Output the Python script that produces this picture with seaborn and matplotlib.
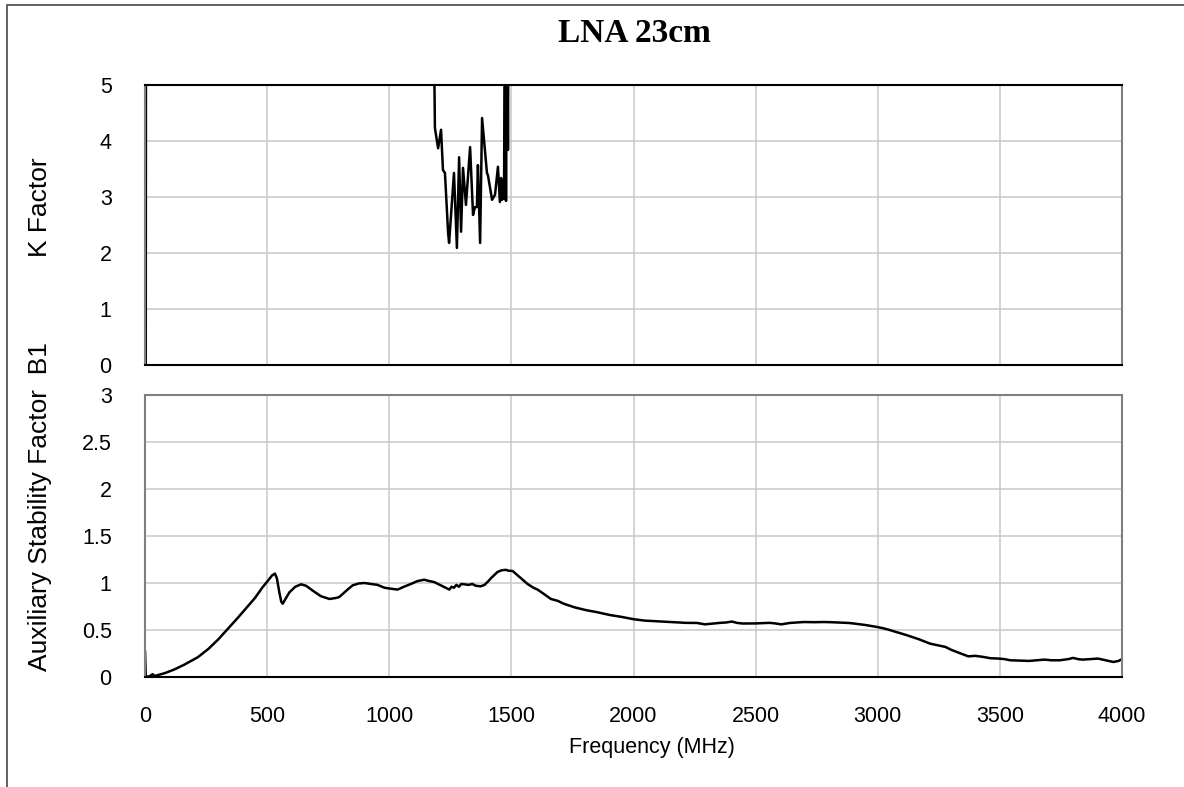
import numpy as np
import pandas as pd
import matplotlib
matplotlib.use("Agg")
import matplotlib.pyplot as plt
from matplotlib.patches import Rectangle
import seaborn as sns

# K factor (top panel); values above 5 are off-scale in the original
k_freq = [3, 8, 300, 800, 1175, 1187, 1200, 1212, 1220, 1228, 1241, 1245, 1265,
          1277, 1286, 1294, 1302, 1314, 1331, 1343, 1351, 1359, 1363, 1372, 1380,
          1400, 1404, 1421, 1433, 1445, 1453, 1458, 1462, 1466, 1470, 1474, 1478,
          1482, 1486, 1490, 2500, 4000]
k_vals = [0.0, 30, 40, 25, 9.0, 4.23, 3.87, 4.2, 3.48, 3.43, 2.36, 2.18, 3.43,
          2.09, 3.71, 2.38, 3.52, 2.86, 3.89, 2.68, 2.82, 2.82, 3.57, 2.18, 4.41,
          3.43, 3.39, 2.95, 3.04, 3.54, 2.91, 3.34, 2.95, 3.3, 2.97, 8.0, 2.93,
          8.0, 3.84, 9.0, 30, 30]

# Auxiliary stability factor B1 (bottom panel)
b1_freq = [0, 3, 10, 20, 31, 40, 52, 80, 120, 160, 216, 260, 300, 338, 380, 420,
           450, 482, 505, 520, 532, 540, 550, 558, 564, 575, 591, 615, 639, 660,
           686, 720, 755, 780, 795, 825, 850, 875, 898, 925, 952, 980, 1005, 1034,
           1060, 1089, 1115, 1143, 1165, 1184, 1215, 1246, 1255, 1265, 1275, 1285,
           1295, 1307, 1325, 1340, 1355, 1375, 1390, 1402, 1420, 1443, 1460, 1477,
           1490, 1505, 1535, 1566, 1590, 1607, 1635, 1662, 1690, 1714, 1760, 1808,
           1850, 1902, 1950, 2000, 2045, 2089, 2150, 2214, 2260, 2292, 2330, 2355,
           2380, 2402, 2425, 2448, 2500, 2558, 2580, 2605, 2640, 2670, 2698, 2740,
           2780, 2808, 2850, 2880, 2902, 2950, 2995, 3020, 3042, 3080, 3120, 3170,
           3214, 3250, 3277, 3300, 3323, 3350, 3370, 3400, 3433, 3460, 3495, 3520,
           3542, 3580, 3620, 3650, 3683, 3710, 3745, 3780, 3800, 3820, 3839, 3870,
           3902, 3930, 3964, 3985, 4000]
b1_vals = [0.28, 0.02, 0.0, 0.01, 0.03, 0.01, 0.02, 0.04, 0.08, 0.13, 0.21, 0.30,
           0.40, 0.51, 0.63, 0.75, 0.84, 0.957, 1.03, 1.08, 1.10, 1.05, 0.90, 0.80,
           0.78, 0.83, 0.90, 0.96, 0.986, 0.97, 0.92, 0.86, 0.83, 0.84, 0.85, 0.92,
           0.975, 0.995, 1.0, 0.99, 0.98, 0.95, 0.94, 0.93, 0.96, 0.99, 1.02, 1.035,
           1.02, 1.01, 0.97, 0.93, 0.96, 0.95, 0.98, 0.96, 0.99, 0.986, 0.98, 0.99,
           0.97, 0.965, 0.98, 1.01, 1.06, 1.117, 1.135, 1.14, 1.13, 1.128, 1.06,
           0.99, 0.95, 0.93, 0.88, 0.83, 0.81, 0.78, 0.74, 0.71, 0.69, 0.66, 0.64,
           0.615, 0.60, 0.594, 0.585, 0.576, 0.575, 0.56, 0.57, 0.576, 0.58, 0.59,
           0.575, 0.569, 0.57, 0.576, 0.57, 0.56, 0.575, 0.58, 0.585, 0.583, 0.585,
           0.583, 0.578, 0.575, 0.569, 0.553, 0.533, 0.52, 0.505, 0.475, 0.444,
           0.40, 0.355, 0.335, 0.32, 0.29, 0.267, 0.24, 0.22, 0.225, 0.213, 0.20,
           0.196, 0.19, 0.178, 0.175, 0.171, 0.178, 0.185, 0.178, 0.178, 0.19,
           0.203, 0.19, 0.185, 0.19, 0.196, 0.18, 0.16, 0.17, 0.19]

sns.set_style("white")
plt.rcParams['font.family'] = ['Liberation Sans', 'DejaVu Sans']
plt.rcParams['text.color'] = 'black'

W, H = 1184, 787
fig = plt.figure(figsize=(W / 100, H / 100), dpi=100)


def fx(px):
    return px / W


def fy(py):
    return 1 - py / H


left, right = fx(145), fx(1122)
ax_k = fig.add_axes([left, fy(365), right - left, fy(85) - fy(365)])
ax_b = fig.add_axes([left, fy(677), right - left, fy(395) - fy(677)])

k_df = pd.DataFrame({"freq": k_freq, "k": k_vals})
b_df = pd.DataFrame({"freq": b1_freq, "b1": b1_vals})

sns.lineplot(data=k_df, x="freq", y="k", color="black", lw=1.8, ax=ax_k,
             estimator=None, sort=False)
sns.lineplot(data=b_df, x="freq", y="b1", color="black", lw=1.8, ax=ax_b,
             estimator=None, sort=False)

grid_col = "#c8c8c8"
for ax in (ax_k, ax_b):
    ax.set_xlim(0, 4000)
    ax.set_xticks(np.arange(0, 4001, 500))
    ax.grid(True, color=grid_col, lw=1.1)
    ax.set_axisbelow(True)
    ax.set_xlabel("")
    ax.set_ylabel("")
    ax.tick_params(length=0, labelsize=15.5, colors="black")
    ax.tick_params(axis="y", pad=24)
    ax.tick_params(axis="x", pad=21)
    for s in ("left", "top", "right"):
        ax.spines[s].set_color("#808080")
        ax.spines[s].set_linewidth(1.5)
    ax.spines["bottom"].set_color("black")
    ax.spines["bottom"].set_linewidth(1.5)

ax_k.spines["top"].set_color("black")
ax_k.set_ylim(0, 5)
ax_k.set_yticks(range(0, 6))
ax_k.set_xticklabels([])

ax_b.set_ylim(0, 3)
ax_b.set_yticks(np.arange(0, 3.01, 0.5))
ax_b.set_yticklabels(["0", "0.5", "1", "1.5", "2", "2.5", "3"])
ax_b.set_xticklabels([str(v) for v in range(0, 4001, 500)])

fig.text(fx(634), fy(33), "LNA 23cm", ha="center", va="center", fontsize=24,
         fontweight="bold", family=["Liberation Serif", "DejaVu Serif"])
fig.text(fx(652), fy(748), "Frequency (MHz)", ha="center", va="center", fontsize=15.5)
fig.text(fx(40), fy(207), "K Factor", ha="center", va="center", rotation=90,
         fontsize=19)
fig.text(fx(40), fy(507), "Auxiliary Stability Factor  B1", ha="center", va="center",
         rotation=90, fontsize=19)

fig.add_artist(Rectangle((fx(7), -0.05), 1.2, fy(5) + 0.05, transform=fig.transFigure,
                         fill=False, ec="#555555", lw=1.3))

fig.savefig("out.png", dpi=100)
